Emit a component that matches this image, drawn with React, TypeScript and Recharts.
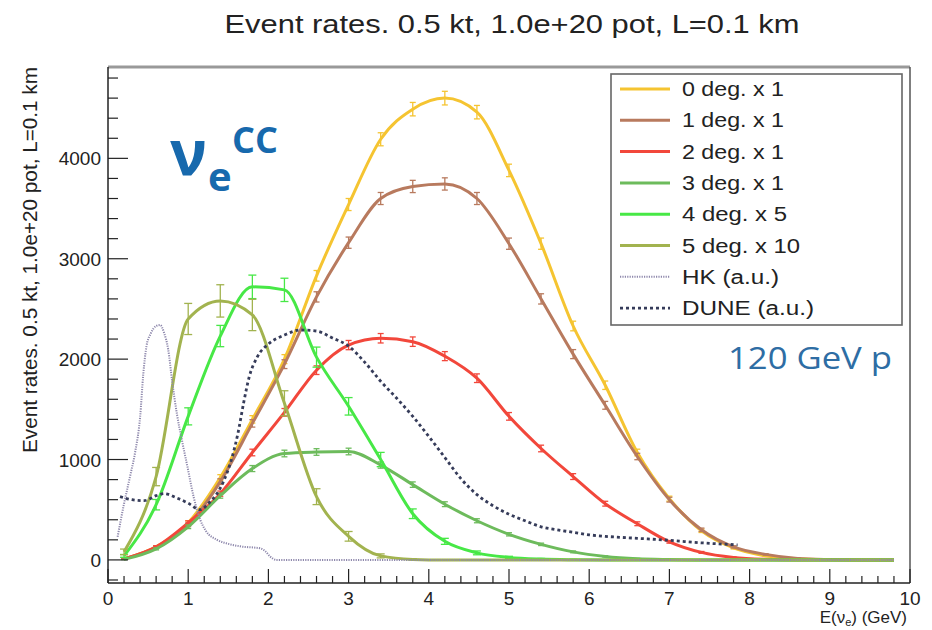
import React from 'react';
import { LineChart, Line, XAxis, YAxis, ErrorBar, Legend, ReferenceLine } from 'recharts';

// bin centres (GeV), 0.4 GeV wide bins
const E_BINS = [0.2, 0.6, 1.0, 1.4, 1.8, 2.2, 2.6, 3.0, 3.4, 3.8, 4.2, 4.6, 5.0, 5.4, 5.8, 6.2, 6.6, 7.0, 7.4, 7.8, 8.2, 8.6, 9.0, 9.4, 9.8];

const DEG0 = [10, 130, 370, 820, 1400, 2000, 2830, 3540, 4190, 4490, 4600, 4460, 3880, 3150, 2330, 1740, 1070, 610, 290, 120, 40, 12, 3, 0, 0];
const ERR0 = [3, 11, 19, 29, 37, 45, 53, 60, 65, 67, 68, 67, 62, 56, 48, 42, 33, 25, 17, 11, 6, 3, 2, 0, 0];
const DEG1 = [10, 125, 350, 780, 1360, 1950, 2620, 3160, 3600, 3720, 3745, 3600, 3150, 2600, 2050, 1540, 1030, 600, 300, 130, 55, 15, 4, 0, 0];
const ERR1 = [3, 11, 19, 28, 37, 44, 51, 56, 60, 61, 61, 60, 56, 51, 45, 39, 32, 24, 17, 11, 7, 4, 2, 0, 0];
const DEG2 = [10, 130, 370, 660, 1070, 1470, 1890, 2140, 2208, 2174, 2030, 1810, 1430, 1110, 830, 560, 360, 180, 75, 25, 6, 0, 0, 0, 0];
const ERR2 = [3, 11, 19, 26, 33, 38, 43, 46, 47, 47, 45, 43, 38, 33, 29, 24, 19, 13, 9, 5, 2, 0, 0, 0, 0];
const DEG3 = [5, 110, 330, 640, 910, 1060, 1075, 1080, 945, 750, 555, 390, 255, 155, 80, 35, 12, 4, 0, 0, 0, 0, 0, 0, 0];
const ERR3 = [2, 10, 18, 25, 30, 33, 33, 33, 31, 27, 24, 20, 16, 12, 9, 6, 3, 2, 0, 0, 0, 0, 0, 0, 0];
const DEG4 = [40, 550, 1430, 2230, 2720, 2690, 2020, 1530, 1000, 460, 185, 70, 25, 8, 2, 0, 0, 0, 0, 0, 0, 0, 0, 0, 0];
const ERR4 = [14, 52, 85, 106, 117, 116, 100, 87, 71, 48, 30, 19, 11, 6, 3, 0, 0, 0, 0, 0, 0, 0, 0, 0, 0];
const DEG5 = [80, 830, 2400, 2580, 2440, 1560, 630, 235, 40, 5, 0, 0, 0, 0, 0, 0, 0, 0, 0, 0, 0, 0, 0, 0, 0];
const ERR5 = [28, 91, 155, 161, 156, 125, 79, 48, 20, 7, 0, 0, 0, 0, 0, 0, 0, 0, 0, 0, 0, 0, 0, 0, 0];

// HK and DUNE reference spectra (arbitrary units), finer sampling
const HK_E = [0.12, 0.2, 0.28, 0.34, 0.4, 0.44, 0.48, 0.53, 0.6, 0.65, 0.7, 0.75, 0.8, 0.86, 0.92, 0.99, 1.07, 1.15, 1.22, 1.36, 1.5, 1.65, 1.9, 1.97, 2.02, 2.1, 3.0, 5.0, 7.0, 9.8];
const HK_V = [230, 560, 850, 1080, 1420, 1850, 2130, 2250, 2330, 2340, 2260, 2100, 1780, 1450, 1200, 930, 620, 400, 290, 200, 160, 135, 115, 80, 35, 0, 0, 0, 0, 0];
const DUNE_E = [0.15, 0.3, 0.45, 0.6, 0.7, 0.85, 1.0, 1.15, 1.25, 1.35, 1.45, 1.55, 1.62, 1.69, 1.76, 1.86, 2.0, 2.2, 2.4, 2.6, 2.8, 3.0, 3.2, 3.4, 3.6, 3.8, 4.0, 4.2, 4.4, 4.6, 4.8, 5.0, 5.2, 5.4, 5.6, 5.8, 6.0, 6.2, 6.6, 7.0, 7.4, 7.85];
const DUNE_V = [630, 600, 590, 640, 660, 620, 565, 500, 560, 650, 800, 1030, 1260, 1560, 1820, 2020, 2150, 2240, 2290, 2280, 2210, 2130, 1970, 1780, 1610, 1430, 1230, 1020, 810, 650, 540, 455, 390, 330, 300, 275, 250, 235, 215, 195, 170, 150];

const X_LABELS = [0, 1, 2, 3, 4, 5, 6, 7, 8, 9, 10];
const Y_LABELS = [0, 1000, 2000, 3000, 4000];
const X_TICKS = Array.from({ length: 51 }, (_, i) => +(i * 0.2).toFixed(1));
const Y_TICKS = Array.from({ length: 26 }, (_, i) => -200 + i * 200);

const rows = E_BINS.map((e, i) => ({
  e,
  d0: DEG0[i], err0: ERR0[i],
  d1: DEG1[i], err1: ERR1[i],
  d2: DEG2[i], err2: ERR2[i],
  d3: DEG3[i], err3: ERR3[i],
  d4: DEG4[i], err4: ERR4[i],
  d5: DEG5[i], err5: ERR5[i],
}));
const hkData = HK_E.map((e, i) => ({ e, v: HK_V[i] }));
const duneData = DUNE_E.map((e, i) => ({ e, v: DUNE_V[i] }));

const SERIES = [
  { key: 'd0', err: 'err0', name: '0 deg. x 1', color: '#f5c431', tw: 102, cap: 3 },
  { key: 'd1', err: 'err1', name: '1 deg. x 1', color: '#b87a5e', tw: 102, cap: 3 },
  { key: 'd2', err: 'err2', name: '2 deg. x 1', color: '#f2473b', tw: 102, cap: 3 },
  { key: 'd3', err: 'err3', name: '3 deg. x 1', color: '#6dbb5c', tw: 102, cap: 3 },
  { key: 'd4', err: 'err4', name: '4 deg. x 5', color: '#47e846', tw: 105, cap: 4 },
  { key: 'd5', err: 'err5', name: '5 deg. x 10', color: '#a2b34f', tw: 118, cap: 4 },
];
const HK_COLOR = '#8e88ac';
const DUNE_COLOR = '#363c5a';
const FONT = '"Liberation Sans", Arial, sans-serif';
const AXIS = '#222';

const XTick = ({ x, y, payload }: any) => {
  const v = payload.value;
  const major = X_LABELS.some((l) => Math.abs(l - v) < 1e-6);
  return (
    <g>
      <line x1={x} x2={x} y1={y} y2={y - (major ? 14 : 7)} stroke={AXIS} strokeWidth={1.2} />
      {major && (
        <text x={x} y={y + 22} textAnchor="middle" fontSize={19} fontFamily={FONT} fill="#222">
          {Math.round(v)}
        </text>
      )}
    </g>
  );
};

const YTick = ({ x, y, payload }: any) => {
  const v = payload.value;
  const major = v % 1000 === 0;
  return (
    <g>
      <line x1={x} x2={x + (major ? 20 : 10)} y1={y} y2={y} stroke={AXIS} strokeWidth={1.2} />
      {Y_LABELS.includes(v) && (
        <text x={x - 7} y={y + 7} textAnchor="end" fontSize={19} fontFamily={FONT} fill="#222">
          {v}
        </text>
      )}
    </g>
  );
};

const legendRows = [
  ...SERIES.map((s) => ({ name: s.name, color: s.color, width: 3, dash: undefined as string | undefined, tw: s.tw })),
  { name: 'HK (a.u.)', color: HK_COLOR, width: 2, dash: '1.2 1.2', tw: 97 },
  { name: 'DUNE (a.u.)', color: DUNE_COLOR, width: 2.6, dash: '3 3', tw: 132 },
];

const renderLegend = () => (
  <svg width={294} height={254} style={{ display: 'block' }}>
    <rect x={1} y={1} width={291} height={251} fill="#fff" stroke="#666" strokeWidth={1.6} />
    {legendRows.map((r, i) => {
      const cy = 16 + i * 31.3;
      return (
        <g key={r.name}>
          <line x1={10} x2={60} y1={cy} y2={cy} stroke={r.color} strokeWidth={r.width} strokeDasharray={r.dash} />
          <text x={72} y={cy + 7} fontSize={20} fontFamily={FONT} fill="#222" textLength={r.tw} lengthAdjust="spacingAndGlyphs">
            {r.name}
          </text>
        </g>
      );
    })}
  </svg>
);

export default function App() {
  return (
    <div style={{ position: 'absolute', left: 0, top: 0, width: 932, height: 630, background: '#fff' }}>
      <LineChart width={932} height={630} data={rows} margin={{ top: 67, right: 22, bottom: 17, left: 38 }}>
        <XAxis
          type="number"
          dataKey="e"
          domain={[0, 10]}
          ticks={X_TICKS}
          interval={0}
          tickSize={0}
          tickMargin={0}
          tick={(p: any) => <XTick {...p} />}
          height={30}
          axisLine={{ stroke: AXIS, strokeWidth: 1.5 }}
          allowDataOverflow
        />
        <YAxis
          type="number"
          domain={[-230, 4910]}
          ticks={Y_TICKS}
          interval={0}
          tickSize={0}
          tickMargin={0}
          tick={(p: any) => <YTick {...p} />}
          width={70}
          axisLine={{ stroke: AXIS, strokeWidth: 1.5 }}
          allowDataOverflow
        />
        <ReferenceLine y={4910} stroke="#999" strokeWidth={3} ifOverflow="visible" />
        <ReferenceLine x={10} stroke="#555" strokeWidth={1.5} ifOverflow="visible" />
        {SERIES.map((s) => (
          <Line
            key={s.key}
            type="monotone"
            dataKey={s.key}
            name={s.name}
            stroke={s.color}
            strokeWidth={3}
            dot={false}
            activeDot={false}
            isAnimationActive={false}
          >
            <ErrorBar dataKey={s.err} width={s.cap} stroke={s.color} strokeWidth={1.3} direction="y" />
          </Line>
        ))}
        <Line
          data={hkData}
          type="monotone"
          dataKey="v"
          name="HK (a.u.)"
          stroke={HK_COLOR}
          strokeWidth={2}
          strokeDasharray="1.2 1.2"
          dot={false}
          activeDot={false}
          isAnimationActive={false}
        />
        <Line
          data={duneData}
          type="monotone"
          dataKey="v"
          name="DUNE (a.u.)"
          stroke={DUNE_COLOR}
          strokeWidth={2.8}
          strokeDasharray="3 3"
          dot={false}
          activeDot={false}
          isAnimationActive={false}
        />
        <Legend
          layout="vertical"
          align="center"
          verticalAlign="middle"
          content={renderLegend}
          wrapperStyle={{ left: 610, top: 73, width: 294, height: 254 }}
        />
      </LineChart>
      <svg width={932} height={630} style={{ position: 'absolute', left: 0, top: 0, pointerEvents: 'none' }}>
        <text x={512} y={33} textAnchor="middle" fontSize={26} fontFamily={FONT} fill="#222" textLength={575} lengthAdjust="spacingAndGlyphs">
          Event rates. 0.5 kt, 1.0e+20 pot, L=0.1 km
        </text>
        <text transform="translate(37,67) rotate(-90)" textAnchor="end" fontSize={20} fontFamily={FONT} fill="#222" textLength={386} lengthAdjust="spacingAndGlyphs">
          Event rates. 0.5 kt, 1.0e+20 pot, L=0.1 km
        </text>
        <text x={907} y={623} textAnchor="end" fontSize={17} fontFamily={FONT} fill="#222">
          E(ν<tspan fontSize={11} dy={3}>e</tspan><tspan dy={-3}>) (GeV)</tspan>
        </text>
        <g fontFamily='"Open Sans", sans-serif' fontWeight={700} fill="#1769ad">
          <text x={170} y={175} fontSize={62}>ν</text>
          <text x={208} y={191} fontSize={40}>e</text>
          <text x={232} y={153} fontSize={36}>CC</text>
        </g>
        <text x={728} y={369} fontSize={31} fontFamily='"Open Sans", sans-serif' fill="#2e6da4" textLength={164} lengthAdjust="spacingAndGlyphs">
          120 GeV p
        </text>
      </svg>
    </div>
  );
}
